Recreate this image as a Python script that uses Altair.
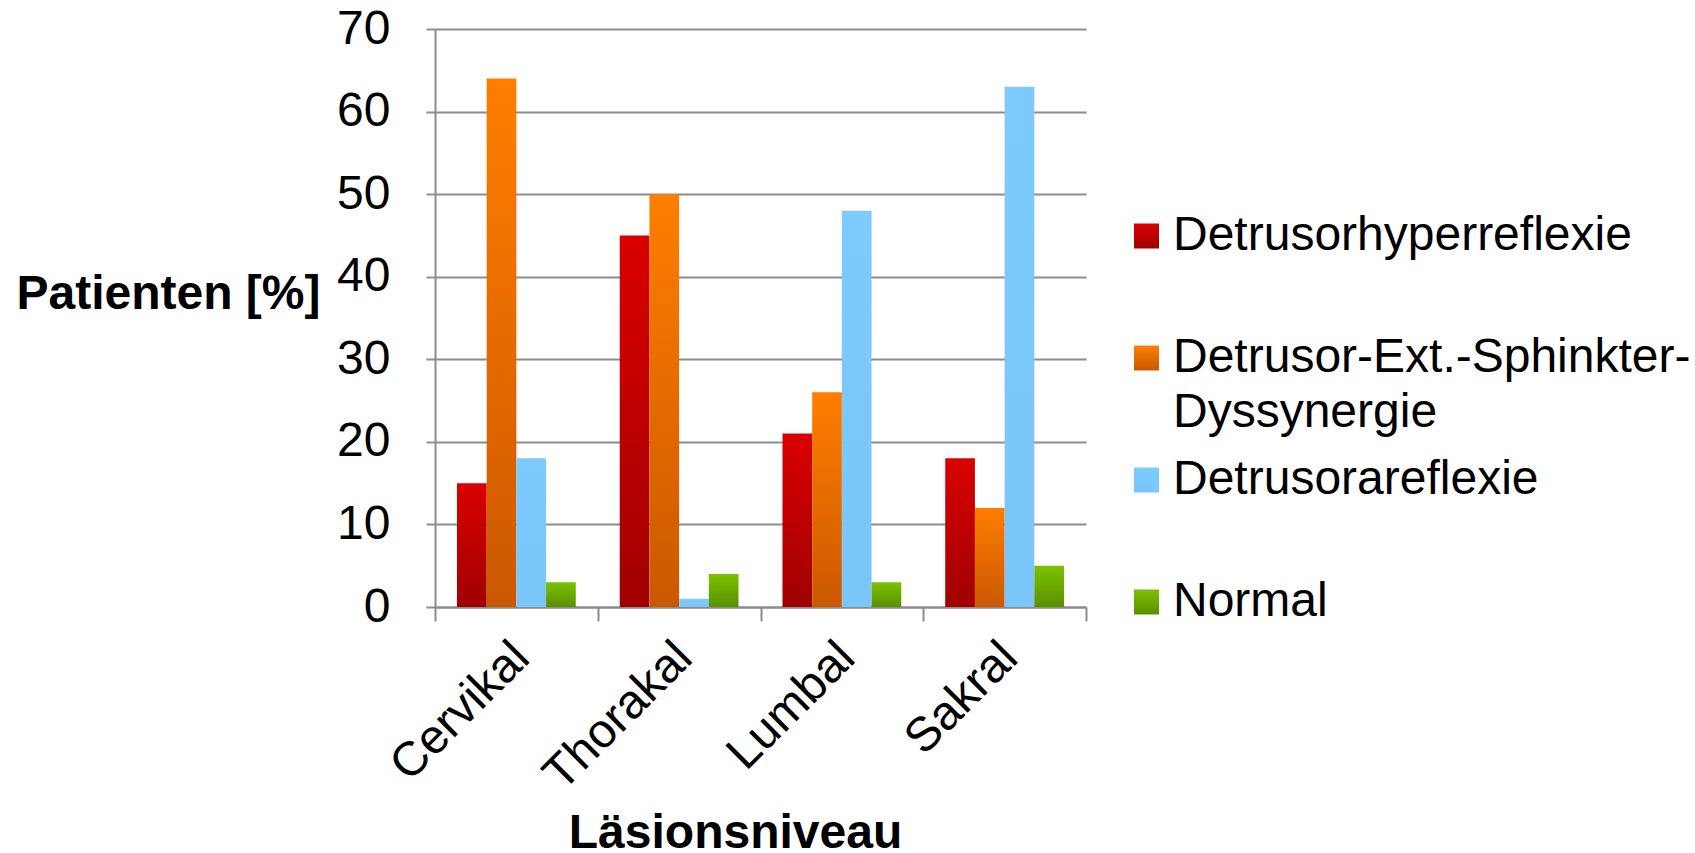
import altair as alt
import pandas as pd

# Lesion levels and urodynamic findings (share of patients, %)
levels = ["Cervikal", "Thorakal", "Lumbal", "Sakral"]
series = [
    "Detrusorhyperreflexie",
    "Detrusor-Ext.-Sphinkter-Dyssynergie",
    "Detrusorareflexie",
    "Normal",
]
# legend wording, with the long entry broken over two lines
legend_labels = [
    "Detrusorhyperreflexie",
    "Detrusor-Ext.-Sphinkter-\nDyssynergie",
    "Detrusorareflexie",
    "Normal",
]
hyperreflexie = [15, 45, 21, 18]
dyssynergie = [64, 50, 26, 12]
areflexie = [18, 1, 48, 63]
normal = [3, 4, 3, 5]

values_by_series = [hyperreflexie, dyssynergie, areflexie, normal]

# (top colour, bottom colour) of each series' vertical gradient
gradient_stops = [
    ("#DA0000", "#A00000"),
    ("#FF7E00", "#CB5800"),
    ("#7DCAFF", "#7AC6FA"),
    ("#7CC200", "#5A9000"),
]

rows = []
for s, vals in zip(series, values_by_series):
    for lvl, v in zip(levels, vals):
        rows.append({"Niveau": lvl, "Serie": s, "Wert": v})
df = pd.DataFrame(rows)

legend_df = pd.DataFrame(
    {"Serie": series, "Zeile": list(range(len(series))), "Text": legend_labels}
)

FONT = "Liberation Sans"
GRAY = "#8c8c8c"
FS = 48

base = alt.Chart(df).encode(
    x=alt.X(
        "Niveau:N",
        sort=levels,
        scale=alt.Scale(domain=levels, paddingInner=0, paddingOuter=0),
        axis=alt.Axis(
            title="Läsionsniveau",
            titleFontSize=FS,
            titleFontWeight="bold",
            titleFont=FONT,
            titleX=300,
            titleY=240,
            titleBaseline="alphabetic",
            titleAlign="center",
            labelAngle=-45,
            labelAlign="right",
            labelBaseline="top",
            labelFontSize=FS,
            labelFont=FONT,
            labelColor="black",
            labelLimit=500,
            labelPadding=12,
            labelOffset=-12,
            tickBand="extent",
            tickSize=14,
            tickColor=GRAY,
            tickWidth=2,
            domainColor=GRAY,
            domainWidth=2,
            grid=False,
        ),
    ),
    # the outer padding of the offset scale leaves the gap between groups
    xOffset=alt.XOffset(
        "Serie:N",
        sort=series,
        scale=alt.Scale(domain=series, paddingInner=0, paddingOuter=0.74),
    ),
    y=alt.Y(
        "Wert:Q",
        scale=alt.Scale(domain=[0, 70], nice=False),
        axis=alt.Axis(
            title="Patienten [%]",
            titleAngle=0,
            titleFontSize=FS,
            titleFontWeight="bold",
            titleFont=FONT,
            titleAlign="right",
            titleBaseline="middle",
            titleX=-115,
            titleY=265,
            values=[0, 10, 20, 30, 40, 50, 60, 70],
            labelFontSize=FS,
            labelFont=FONT,
            labelColor="black",
            labelPadding=36,
            tickSize=9,
            tickColor=GRAY,
            tickWidth=2,
            domainColor=GRAY,
            domainWidth=2,
            gridColor=GRAY,
            gridWidth=2,
        ),
    ),
)

# Legend rows on their own point scale, to the right of the plot
legend_y = alt.Y(
    "Zeile:O",
    scale=alt.Scale(type="point", domain=[0, 1, 2, 3], range=[207, 573], padding=0),
    axis=None,
)
legend_base = alt.Chart(legend_df).encode(y=legend_y)

bar_layers = []
swatch_layers = []
for s, (top, bottom) in zip(series, gradient_stops):
    grad = alt.Gradient(
        gradient="linear",
        stops=[
            alt.GradientStop(color=top, offset=0),
            alt.GradientStop(color=bottom, offset=1),
        ],
        x1=0, x2=0, y1=0, y2=1,
    )
    # bars of this series
    bar_layers.append(
        base.transform_filter(alt.datum.Serie == s).mark_bar(color=grad)
    )
    # legend swatch of this series
    swatch_layers.append(
        legend_base.transform_filter(alt.datum.Serie == s)
        .mark_square(size=625, color=grad, opacity=1, strokeWidth=0)
        .encode(x=alt.value(711.5))
    )

legend_text = legend_base.mark_text(
    align="left",
    baseline="line-top",
    lineBreak="\n",
    lineHeight=55,
    fontSize=FS,
    font=FONT,
    color="black",
    dy=-27,
).encode(x=alt.value(738), text="Text:N")

bars = alt.layer(*bar_layers)
legend = alt.layer(*swatch_layers, legend_text)

chart = (
    alt.layer(bars, legend)
    .resolve_scale(y="independent")
    .properties(
        width=651,
        height=578,
        autosize=alt.AutoSizeParams(type="none"),
        padding={"left": 435, "top": 29, "right": 609, "bottom": 246},
        background="white",
    )
    .configure_view(strokeWidth=0)
    .configure_text(font=FONT)
)

chart.save("out.html", embed_options={"renderer": "svg", "actions": False})
